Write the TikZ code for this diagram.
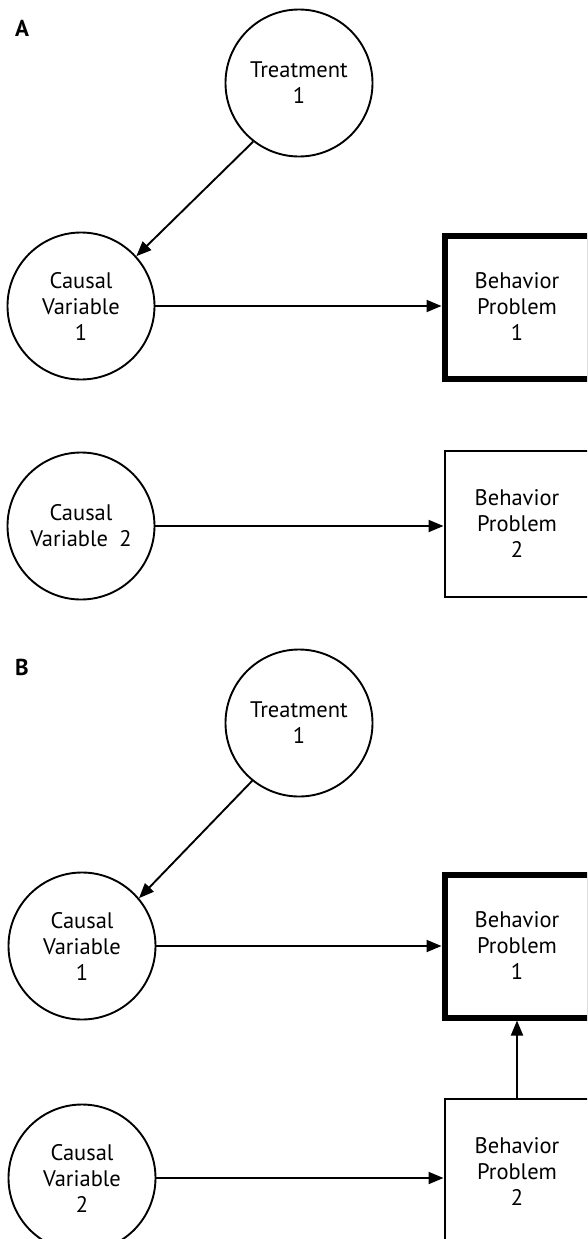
\documentclass[tikz,border=0pt]{standalone}
\usepackage{fontspec}
\setmainfont{PT Sans}
\usetikzlibrary{arrows.meta}

\begin{document}
\begin{tikzpicture}[x=1pt, y=-1pt, main/.style={draw, circle, minimum size=147pt, inner sep=0pt, line width=1.9pt, align=center, font=\fontsize{22.5}{26}\selectfont}, info/.style={draw, rectangle, minimum width=145pt, minimum height=146pt, inner sep=0pt, line width=2pt, align=center, font=\fontsize{22.5}{26}\selectfont}, focus/.style={info, minimum height=143pt, line width=6pt}, n/.style={-{Triangle[length=15pt, width=12pt]}, line width=1.9pt}, panel/.style={font=\bfseries\fontsize{23}{26}\selectfont}]
            \path[use as bounding box, clip] (0,0) rectangle (587,1239);
            % panel A nodes
            \node[panel] (labA) at (22,28) {A};
            \node[main] (T1A) at (299,83) {Treatment\\1};
            \node[main] (CV1A) at (81,306) {Causal\\Variable\\1};
            \node[focus] (BP1A) at (517,307) {Behavior\\Problem\\1};
            \node[main] (CV2A) at (81,526) {Causal\\Variable\enspace2};
            \node[info] (BP2A) at (517,524) {Behavior\\Problem\\2};
            % panel A edges
            \draw [n] (T1A.232) -- (CV1A.42);
            \draw [n] (CV1A) -- (CV1A -| BP1A.west);
            \draw [n] (CV2A) -- (CV2A -| BP2A.west);
            % panel B nodes
            \node[panel] (labB) at (22,667) {B};
            \node[main] (T1B) at (299,723) {Treatment\\1};
            \node[main] (CV1B) at (82,946) {Causal\\Variable\\1};
            \node[focus] (BP1B) at (517,946) {Behavior\\Problem\\1};
            \node[main] (CV2B) at (82,1178) {Causal\\Variable\\2};
            \node[info] (BP2B) at (517,1172) {Behavior\\Problem\\2};
            % panel B edges
            \draw [n] (T1B.231) -- (CV1B.40);
            \draw [n] (CV1B) -- (CV1B -| BP1B.west);
            \draw [n] (CV2B) -- (CV2B -| BP2B.west);
            \draw [n] (BP2B) -- (BP1B);
        \end{tikzpicture}
\end{document}
